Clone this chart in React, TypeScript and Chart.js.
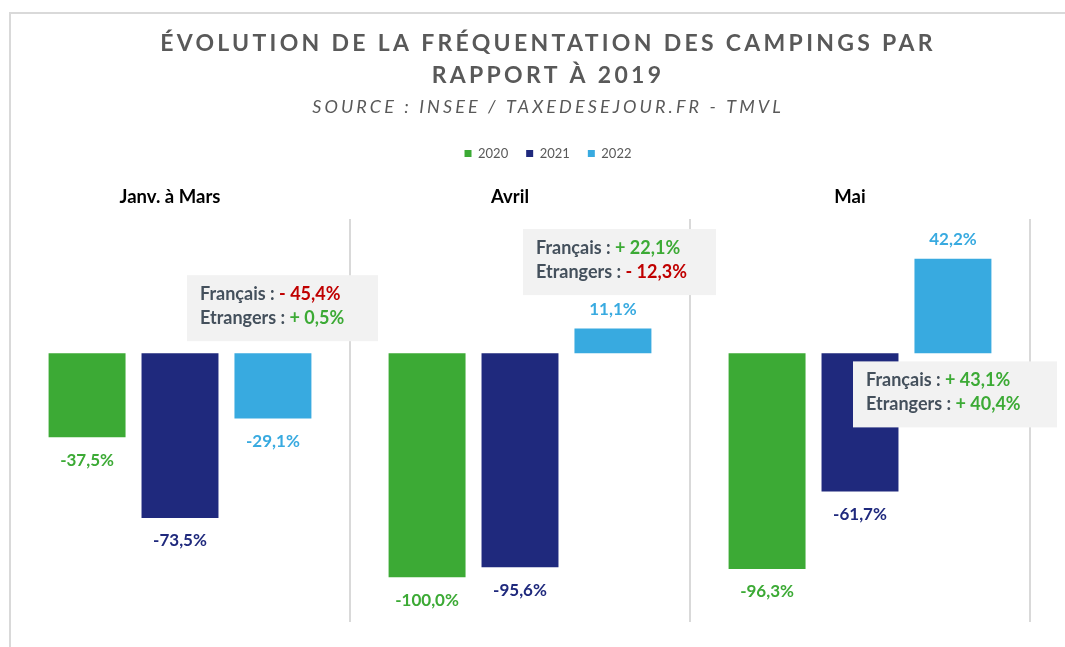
import React, { useEffect, useRef } from 'react';
import { Chart, registerables } from 'chart.js';

Chart.register(...registerables);

// ---- data ----
const categories = ['Janv. à Mars', 'Avril', 'Mai'];
const seriesLabels = ['2020', '2021', '2022'];
const values2020 = [-37.5, -100.0, -96.3];
const values2021 = [-73.5, -95.6, -61.7];
const values2022 = [-29.1, 11.1, 42.2];
const francaisChange = [-45.4, 22.1, 43.1];
const etrangersChange = [0.5, -12.3, 40.4];

const titleLines = ['ÉVOLUTION DE LA FRÉQUENTATION DES CAMPINGS PAR', 'RAPPORT À 2019'];
const subtitle = 'SOURCE : INSEE / TAXEDESEJOUR.FR - TMVL';

// ---- styles / layout ----
const COLORS = ['#3CAA35', '#1F297D', '#38AAE0'];
const RED = '#C00000';
const TEXT_GRAY = '#595959';
const NOTE_GRAY = '#44505C';
const FONT = 'Lato, "Open Sans", sans-serif';
const CANVAS_W = 1086;
const CANVAS_H = 647;
// note boxes: dx from category centre (px), top in value units, box width (px)
const noteAnchors = [
  { dx: 7, top: 34.9, w: 191 },
  { dx: 3, top: 55.5, w: 193 },
  { dx: -7, top: -3.6, w: 204 },
];

const fmtBar = (v: number) => v.toFixed(1).replace('.', ',') + '%';
const fmtNote = (v: number) => (v < 0 ? '- ' : '+ ') + Math.abs(v).toFixed(1).replace('.', ',') + '%';

const decorPlugin = {
  id: 'decor',
  beforeDraw(chart: any) {
    const ctx = chart.ctx;
    ctx.save();
    ctx.fillStyle = '#ffffff';
    ctx.fillRect(0, 0, chart.width, chart.height);
    ctx.strokeStyle = '#d9d9d9';
    ctx.lineWidth = 2;
    ctx.beginPath();
    ctx.moveTo(10, CANVAS_H);
    ctx.lineTo(10, 13);
    ctx.lineTo(CANVAS_W, 13);
    ctx.stroke();
    ctx.restore();
  },
  afterDraw(chart: any) {
    const ctx = chart.ctx;
    const cx = chart.width / 2 + 5;
    ctx.save();
    ctx.fillStyle = TEXT_GRAY;
    ctx.textAlign = 'center';
    ctx.textBaseline = 'middle';
    ctx.font = `bold 23px ${FONT}`;
    (ctx as any).letterSpacing = '3.3px';
    ctx.fillText(titleLines[0], cx, 44);
    ctx.fillText(titleLines[1], cx, 76);
    ctx.font = `italic 18px ${FONT}`;
    (ctx as any).letterSpacing = '3.1px';
    ctx.fillText(subtitle, cx, 107);
    ctx.restore();
  },
  afterDatasetsDraw(chart: any) {
    const ctx = chart.ctx;
    ctx.save();
    ctx.textAlign = 'center';
    ctx.textBaseline = 'middle';
    ctx.font = `bold 17px ${FONT}`;
    chart.data.datasets.forEach((ds: any, di: number) => {
      const meta = chart.getDatasetMeta(di);
      meta.data.forEach((el: any, i: number) => {
        const v = ds.data[i];
        ctx.fillStyle = COLORS[di];
        const y = v < 0 ? el.y + 23 : el.y - 19;
        ctx.fillText(fmtBar(v), el.x, y);
      });
    });
    // note boxes
    const xs = chart.scales.x;
    const ys = chart.scales.y;
    categories.forEach((_, i) => {
      const a = noteAnchors[i];
      const left = xs.getPixelForValue(i) + a.dx;
      const top = ys.getPixelForValue(a.top);
      ctx.fillStyle = '#F2F2F2';
      ctx.fillRect(left, top, a.w, 66);
      ctx.font = `bold 18px ${FONT}`;
      ctx.textAlign = 'left';
      const tx = left + 13;
      const rows: [string, string, number, number][] = [
        ['Français : ', fmtNote(francaisChange[i]), francaisChange[i], top + 19],
        ['Etrangers : ', fmtNote(etrangersChange[i]), etrangersChange[i], top + 43],
      ];
      rows.forEach(([a1, b1, val, y]) => {
        ctx.fillStyle = NOTE_GRAY;
        ctx.fillText(a1, tx, y);
        const wa = ctx.measureText(a1).width;
        ctx.fillStyle = val < 0 ? RED : COLORS[0];
        ctx.fillText(b1, tx + wa, y);
      });
    });
    ctx.restore();
  },
};

export default function App() {
  const ref = useRef<HTMLCanvasElement | null>(null);
  useEffect(() => {
    if (!ref.current) return;
    const chart = new Chart(ref.current, {
      type: 'bar',
      data: {
        labels: categories,
        datasets: [values2020, values2021, values2022].map((d, i) => ({
          label: seriesLabels[i],
          data: d,
          backgroundColor: COLORS[i],
          borderWidth: 0,
          categoryPercentage: 0.82,
          barPercentage: 0.828,
        })),
      },
      options: {
        animation: false,
        responsive: false,
        maintainAspectRatio: false,
        layout: { padding: { top: 129, left: 10, right: 0, bottom: 25 } },
        plugins: {
          title: { display: false },
          tooltip: { enabled: false },
          legend: {
            position: 'top',
            labels: {
              boxWidth: 7,
              boxHeight: 7,
              color: TEXT_GRAY,
              font: { size: 13, family: FONT },
              padding: 18,
            },
          },
        },
        scales: {
          x: {
            position: 'top',
            grid: { offset: true, color: '#d9d9d9', lineWidth: 2, drawTicks: false },
            border: { display: false },
            ticks: {
              color: '#000000',
              font: { size: 18.5, weight: 'bold', family: FONT },
              padding: 11,
              labelOffset: -10,
            },
            afterFit: (a: any) => { a.height = 49; },
          },
          y: {
            position: 'right',
            min: -120,
            max: 60,
            grid: { display: false },
            border: { display: false },
            ticks: { display: false },
            afterFit: (a: any) => { a.width = 56; },
          },
        },
      },
      plugins: [decorPlugin],
    });
    return () => chart.destroy();
  }, []);
  return (
    <div style={{ position: 'absolute', left: 0, top: 0, width: 1065, height: 647, overflow: 'hidden', background: '#fff' }}>
      <canvas ref={ref} width={CANVAS_W} height={CANVAS_H} style={{ width: CANVAS_W, height: CANVAS_H, display: 'block' }} />
    </div>
  );
}
